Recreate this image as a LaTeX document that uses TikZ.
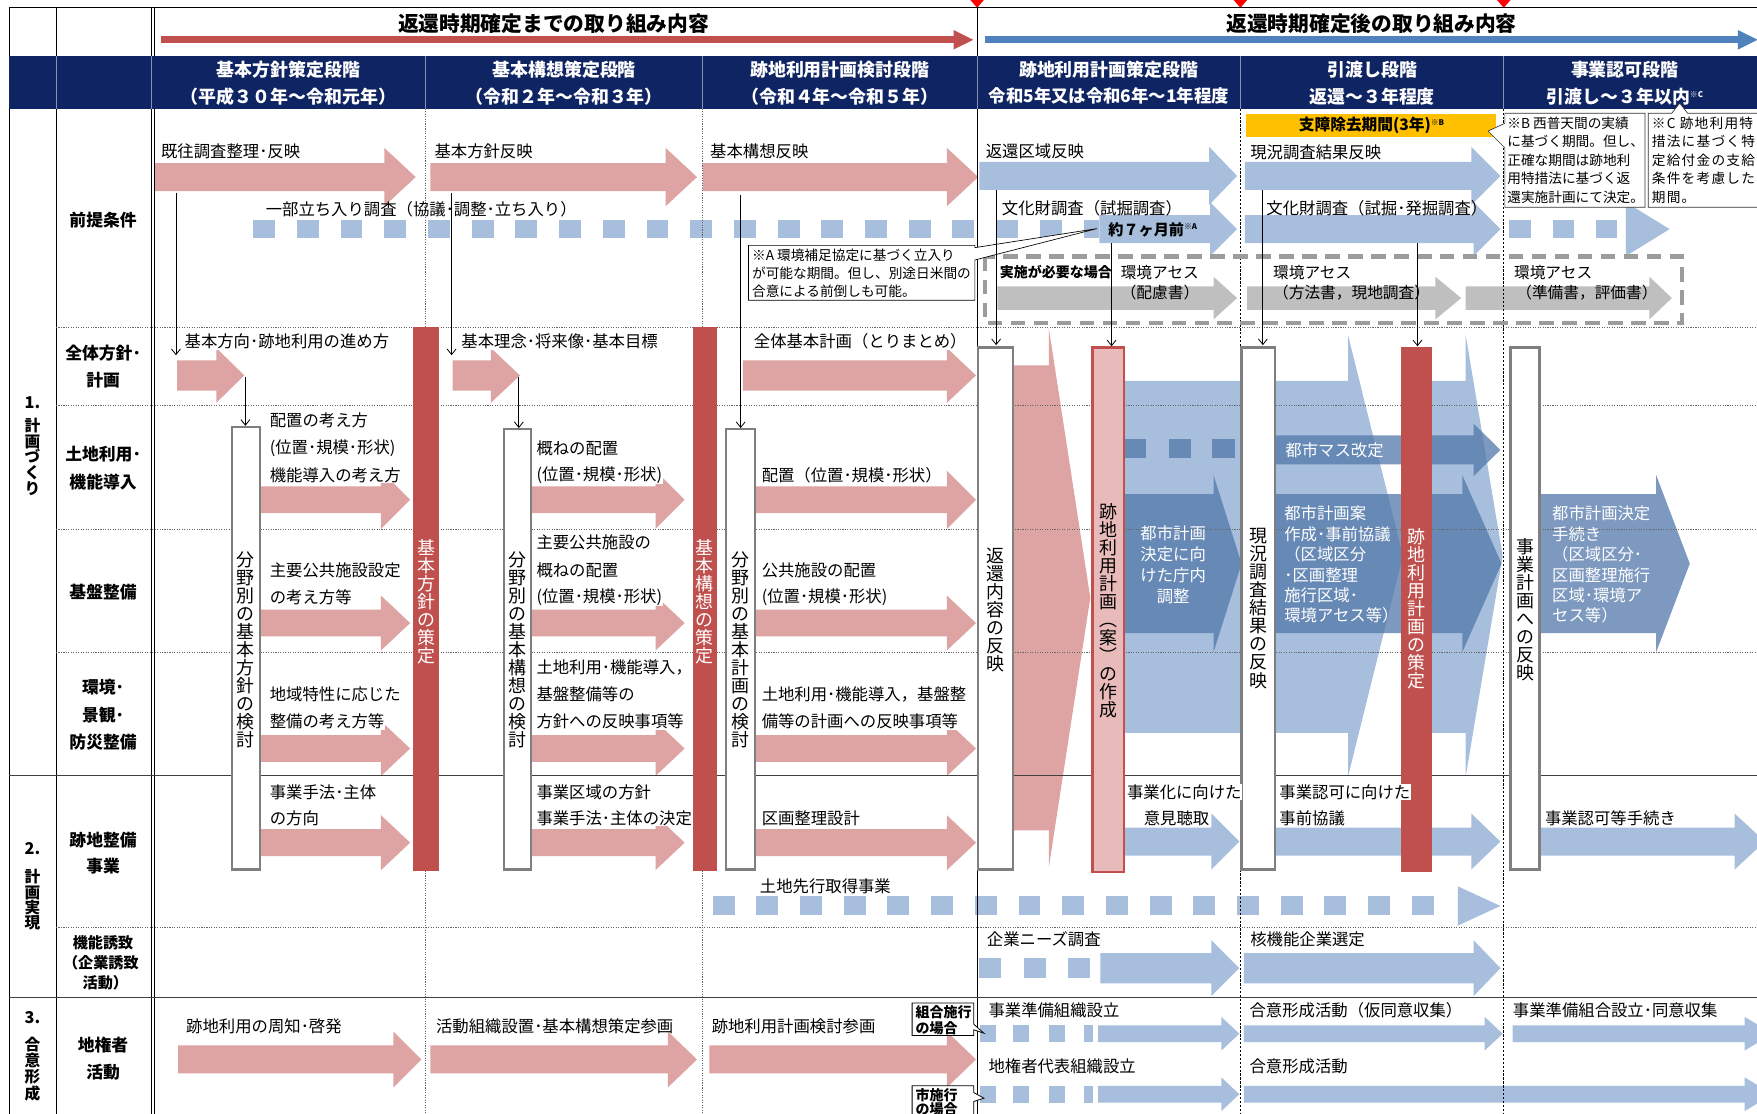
\documentclass[tikz,border=0pt]{standalone}
\usepackage{fontspec}
\setmainfont{Noto Sans CJK JP}
\usetikzlibrary{arrows.meta}
\definecolor{navy}{HTML}{0F2463}
\definecolor{dred}{HTML}{C0504D}
\definecolor{pinkA}{HTML}{DEA3A3}
\definecolor{pinkB}{HTML}{E8BABA}
\definecolor{lblue}{HTML}{A7BEDD}
\definecolor{dblue}{RGB}{82,120,170}
\definecolor{hblue}{HTML}{4F81BD}
\definecolor{boxgray}{HTML}{7F7F7F}
\definecolor{garrow}{HTML}{BFBFBF}
\definecolor{dashgray}{HTML}{9C9C9C}
\definecolor{yel}{HTML}{FFC000}
\newcommand\fsz[2]{\fontsize{#1}{#2}\selectfont}
\newcommand\ha[7]{\fill[#1] (#2,#5-#6) -- (#3,#5-#6) -- (#3,#5-#7) -- (#4,#5) -- (#3,#5+#7) -- (#3,#5+#6) -- (#2,#5+#6) -- cycle;}
\begin{document}
\begin{tikzpicture}[x=1pt,y=-1pt,
 pk/.style={fill=pinkA},
 lb/.style={fill=lblue},
 db/.style={fill=dblue,fill opacity=0.75},
 ga/.style={fill=garrow},
 gdot/.style={draw=black!60,line width=0.6pt,dash pattern=on 1pt off 1.2pt},
 gdsh/.style={draw=black,line width=0.6pt,dash pattern=on 2pt off 1.5pt},
 gsol/.style={draw=black!75,line width=0.9pt},
 vbox/.style={draw=boxgray,line width=2.2pt,fill=white},
 thinarr/.style={draw=black,line width=0.7pt,-{Straight Barb[length=5pt,width=8pt]}},
 lab/.style={anchor=west,inner sep=0.6pt,fill=white,font={\fsz{14.6}{17}}},
 labn/.style={anchor=west,inner sep=0pt,font={\fsz{14.6}{17}}},
 wlab/.style={anchor=west,inner sep=0pt,text=white,font={\fsz{14.6}{17}}},
 hdr/.style={text=white,inner sep=0pt,font={\bfseries\fsz{16}{18}}},
 rowl/.style={inner sep=0pt,font={\bfseries\fsz{15}{17}}},
 vt/.style={align=center,inner sep=0pt,font={\fsz{16}{16.1}}},
 nt/.style={anchor=west,inner sep=0pt,font={\fsz{12.2}{14}}},
 ntc/.style={anchor=west,inner sep=0pt,font={\fsz{12.2}{14}\addfontfeatures{LetterSpace=9}}},
]
\useasboundingbox (0,0) rectangle (1568,994);
\clip (0,0) rectangle (1568,994);
\fill[white] (0,0) rectangle (1568,994);
\fill[navy] (8,50) rectangle (1568,97);

% top markers
\foreach \mx in {872,1107,1342} \fill[red] (\mx-6,0) -- (\mx+6,0) -- (\mx,7) -- cycle;

% header arrows
\draw[dred,line width=6pt,-{Triangle[length=18pt,width=16pt]}] (144,35.5) -- (869,35.5);
\draw[hblue,line width=6pt,-{Triangle[length=18pt,width=16pt]}] (879,35.5) -- (1569,35.5);

% ===== premise row arrows
\ha{pk}{138}{343}{371}{158}{12.5}{26}
\ha{pk}{384}{594}{622}{158}{12.5}{26}
\ha{pk}{627}{845}{873}{158}{12.5}{26}
\ha{lb}{874}{1079}{1104}{157}{12.5}{26}
\ha{lb}{1111}{1313}{1339}{157}{12.5}{26}
\foreach \xx in {226,265,...,928} \fill[lb] (\xx,196.5) rectangle ++(19.5,16);
\fill[lb] (967,196.5) rectangle (981,212.5);
\ha{lb}{981}{1080}{1104}{204.5}{12.5}{24}
\ha{lb}{1111}{1315}{1339}{204.5}{12.5}{24}
\foreach \xx in {1347,1385.5,1424} \fill[lb] (\xx,196.5) rectangle ++(19,16);
\fill[lb] (1451,180.5) -- (1490,204.5) -- (1451,228.5) -- cycle;
\ha{ga}{890}{1083}{1104}{266}{10.5}{19}
\ha{ga}{1113}{1281}{1304}{266}{10.5}{19}
\ha{ga}{1308}{1472}{1492}{266}{10.5}{19}

% ===== overall policy row
\ha{pk}{158}{193}{218}{335}{13.5}{24.5}
\ha{pk}{404}{438}{464}{335}{13.5}{24.5}
\ha{pk}{663}{845}{871}{335}{13.5}{24.5}

% ===== planning rows
\foreach \yy/\hh in {446/26,556/24.5,668/24.5,752/24.5}{
  \ha{pk}{233}{340}{366}{\yy}{12}{\hh}
  \ha{pk}{474}{585}{611}{\yy}{12}{\hh}
  \ha{pk}{674}{845}{871}{\yy}{12}{\hh}
}
% landowner row pink
\ha{pk}{159}{351}{376}{945.5}{12.5}{25}
\ha{pk}{384}{596}{622}{945.5}{12.5}{25}
\ha{pk}{633}{845}{871}{945.5}{12.5}{25}

% big pink arrow
\fill[pk] (890,326) -- (936,326) -- (936,293) -- (973,533.5) -- (936,774) -- (936,741) -- (890,741) -- cycle;
% big light blue arrows
\fill[lb] (990,340) -- (1203,340) -- (1203,299) -- (1252,496) -- (1203,693) -- (1203,654) -- (990,654) -- cycle;
\fill[lb] (1260,340) -- (1308,340) -- (1308,299) -- (1341,496) -- (1308,693) -- (1308,654) -- (1260,654) -- cycle;
% darker blue arrows
\ha{db}{1000}{1083}{1108}{503}{62}{79}
\foreach \xx in {1003,1043,1082} \fill[db] (\xx,392) rectangle ++(20,17);
\ha{db}{1125}{1315}{1339}{401.5}{13}{23.5}
\ha{db}{1125}{1305}{1340}{503}{62}{79}
\ha{db}{1370}{1478}{1508}{503}{62}{79}

% lower blue arrows
\ha{lb}{1000}{1081}{1106}{751}{12.5}{25}
\ha{lb}{1130}{1313}{1339}{751}{12.5}{25}
\ha{lb}{1370}{1548}{1575}{751}{12.5}{25}
\foreach \xx in {636,675,...,1260} \fill[lb] (\xx,800) rectangle ++(19.5,17);
\fill[lb] (1301,791) -- (1339,808.5) -- (1301,826) -- cycle;
\foreach \xx in {874,914,953} \fill[lb] (\xx,855) rectangle ++(19.5,18);
\ha{lb}{982}{1081}{1106}{864}{13.5}{25}
\ha{lb}{1110}{1315}{1339}{864}{13.5}{25}
\foreach \yy in {922.5,976.5}{
 \foreach \xx in {875,904,936} \fill[lb] (\xx,\yy-7.5) rectangle ++(14,15);
 \fill[lb] (967,\yy-7.5) rectangle ++(8,15);
 \ha{lb}{980}{1090}{1106}{\yy}{7.5}{15}
}
\ha{lb}{1110}{1325}{1341}{922.5}{7.5}{15}
\ha{lb}{1350}{1557}{1582}{922.5}{7.5}{15}
\ha{lb}{1110}{1557}{1582}{976.5}{7.5}{15}

% ===== grid
\draw[black,line width=0.8pt] (8,7) -- (1568,7);
\foreach \xx in {8,50,135,137.8} {\draw[black,line width=0.8pt] (\xx,7) -- (\xx,50); \draw[black,line width=0.8pt] (\xx,97) -- (\xx,994);}
\draw[black,line width=0.6pt] (872.5,7) -- (872.5,50) (872.5,97) -- (872.5,994);
\foreach \xx in {50,135,380,627,872.5,1107,1342} \draw[white!50!navy,line width=0.8pt] (\xx,50) -- (\xx,97);
\foreach \xx in {380,627} \draw[gdot] (\xx,97) -- (\xx,994);
\foreach \xx in {1107,1342} \draw[gdsh] (\xx,97) -- (\xx,994);
\foreach \yy in {292,362,472,582,828} \draw[gdot] (50,\yy) -- (1568,\yy);
\foreach \yy in {692,890} \draw[gsol] (8,\yy) -- (1568,\yy);

% ===== bars and boxes
\fill[dred] (369,292) rectangle (392,777);
\fill[dred] (618,292) rectangle (640,777);
\fill[dred] (1250,310) rectangle (1278,778);
\draw[vbox] (207,381) rectangle (232,776);
\draw[vbox] (450,383) rectangle (474,776);
\draw[vbox] (648,383) rectangle (674,776);
\draw[vbox] (873,310) rectangle (904,776);
\draw[vbox] (1108,310) rectangle (1138,776);
\draw[vbox] (1348,310) rectangle (1374,776);
\filldraw[fill=pinkB,draw=dred,line width=2.2pt] (975,310) rectangle (1003,778);

% dashed box
\draw[draw=dashgray,line width=3.8pt,dash pattern=on 13pt off 7.5pt] (879,229) rectangle (1501,288);

% notes
\filldraw[fill=white,draw=black,line width=0.6pt] (668,219) -- (870,219) -- (870,221) -- (979,204) -- (870,232) -- (870,268) -- (668,268) -- cycle;
\fill[yel] (1112,102) rectangle (1335,122);
\filldraw[fill=white,draw=black!80,line width=0.6pt] (1343,101) -- (1468,101) -- (1468,185) -- (1343,185) -- (1343,132) -- (1328,117) -- (1343,110) -- cycle;
\filldraw[fill=white,draw=black!80,line width=0.6pt] (1471,101) -- (1492,101) -- (1499,92) -- (1506,101) -- (1590,101) -- (1590,185) -- (1471,185) -- cycle;
\filldraw[fill=white,draw=black,line width=0.7pt] (814,895) -- (869,895) -- (869,914) -- (878,922) -- (869,919) -- (869,924) -- (814,924) -- cycle;
\filldraw[fill=white,draw=black,line width=0.7pt] (814,969) -- (869,969) -- (869,975) -- (878,980) -- (869,983) -- (869,1000) -- (814,1000) -- cycle;

% ===== texts: titles
\node[font={\bfseries\fsz{18.5}{20}},inner sep=0pt] (T1) at (494,21) {返還時期確定までの取り組み内容};
\node[font={\bfseries\fsz{18.5}{20}},inner sep=0pt] (T2) at (1224,21) {返還時期確定後の取り組み内容};
\node[hdr] (h1a) at (257.5,62.5) {基本方針策定段階};
\node[hdr] (h1b) at (257.5,86) {（平成３０年～令和元年）};
\node[hdr] (h2a) at (503.5,62.5) {基本構想策定段階};
\node[hdr] (h2b) at (503.5,86) {（令和２年～令和３年）};
\node[hdr] (h3a) at (749.5,62.5) {跡地利用計画検討段階};
\node[hdr] (h3b) at (749.5,86) {（令和４年～令和５年）};
\node[hdr] (h4a) at (989.5,62.5) {跡地利用計画策定段階};
\node[hdr,font={\bfseries\fsz{15.5}{17}}] (h4b) at (989.5,86) {令和5年又は令和6年～1年程度};
\node[hdr] (h5a) at (1224.5,62.5) {引渡し段階};
\node[hdr] (h5b) at (1224.5,86) {返還～３年程度};
\node[hdr] (h6a) at (1450,62.5) {事業認可段階};
\node[hdr] (h6b) at (1450,86) {引渡し～３年以内\raisebox{5pt}{\fsz{7}{7}※C}};

% section labels
\node[font={\bfseries\fsz{14.5}{15}},inner sep=0pt] (s1) at (29,359) {1.};
\node[vt,font={\bfseries\fsz{14}{14}}] (s1v) at (29,407.5) {計\\画\\づ\\く\\り};
\node[font={\bfseries\fsz{14.5}{15}},inner sep=0pt] (s2) at (29,757) {2.};
\node[vt,font={\bfseries\fsz{14}{13.5}}] (s2v) at (29,803) {計\\画\\実\\現};
\node[font={\bfseries\fsz{14.5}{15}},inner sep=0pt] (s3) at (29,908) {3.};
\node[vt,font={\bfseries\fsz{14}{14.5}}] (s3v) at (29,954) {合\\意\\形\\成};

% row labels
\node[rowl] (r1) at (92,196) {前提条件};
\node[rowl] (r2a) at (92,315) {全体方針･};
\node[rowl] (r2b) at (92,339) {計画};
\node[rowl] (r3a) at (92,405) {土地利用･};
\node[rowl] (r3b) at (92,430) {機能導入};
\node[rowl] (r4) at (92,528) {基盤整備};
\node[rowl] (r5a) at (92,613) {環境･};
\node[rowl] (r5b) at (92,638) {景観･};
\node[rowl] (r5c) at (92,662) {防災整備};
\node[rowl] (r6a) at (92,750) {跡地整備};
\node[rowl] (r6b) at (92,773) {事業};
\node[rowl,font={\bfseries\fsz{13.5}{15}}] (r7a) at (92,841) {機能誘致};
\node[rowl,font={\bfseries\fsz{13.5}{15}}] (r7b) at (90,859) {（企業誘致};
\node[rowl,font={\bfseries\fsz{13.5}{15}}] (r7c) at (94,877) {活動）};
\node[rowl] (r8a) at (92,933) {地権者};
\node[rowl] (r8b) at (92,957) {活動};

% premise labels
\node[lab] (p1) at (143,135) {既往調査整理･反映};
\node[lab] (p2) at (387,135) {基本方針反映};
\node[lab] (p3) at (633,135) {基本構想反映};
\node[lab] (p4) at (879,135) {返還区域反映};
\node[lab] (p5) at (1115,136) {現況調査結果反映};
\node[labn] (p6) at (237,187) {一部立ち入り調査（協議･調整･立ち入り）};
\node[labn] (p7) at (894,186) {文化財調査（試掘調査）};
\node[labn] (p8) at (1130,186) {文化財調査（試掘･発掘調査）};
\node[labn,font={\bfseries\fsz{13.5}{15}}] (p9) at (989,205) {約７ヶ月前\raisebox{5pt}{\fsz{7}{7}※A}};
\node[labn,font={\bfseries\fsz{12.5}{14}}] (p10) at (892,243) {実施が必要な場合};
\node[labn,font={\fsz{14}{16}}] (p11) at (1000,243) {環境アセス};
\node[labn,font={\fsz{14}{16}}] (p12) at (1000,261) {（配慮書）};
\node[labn,font={\fsz{14}{16}}] (p13) at (1136,243) {環境アセス};
\node[labn,font={\fsz{14}{16}}] (p14) at (1136,261) {（方法書，現地調査）};
\node[labn,font={\fsz{14}{16}}] (p15) at (1351,243) {環境アセス};
\node[labn,font={\fsz{14}{16}}] (p16) at (1353,261) {（準備書，評価書）};

% notes text
\node[nt] (a1) at (671,228) {※A 環境補足協定に基づく立入り};
\node[nt] (a2) at (671,244) {が可能な期間。但し、別途日米間の};
\node[nt] (a3) at (671,260) {合意による前倒しも可能。};
\node[font={\bfseries\fsz{14}{15}},inner sep=0pt] (yb) at (1224,112) {支障除去期間(3年)\raisebox{5pt}{\fsz{7}{7}※B}};
\node[nt] (b1) at (1345,110) {※B 西普天間の実績};
\node[nt] (b2) at (1345,126.5) {に基づく期間。但し、};
\node[nt] (b3) at (1345,143) {正確な期間は跡地利};
\node[nt] (b4) at (1345,159.5) {用特措法に基づく返};
\node[nt] (b5) at (1345,176) {還実施計画にて決定。};
\node[ntc] (c1) at (1474,110) {※C 跡地利用特};
\node[ntc] (c2) at (1474,126.5) {措法に基づく特};
\node[ntc] (c3) at (1474,143) {定給付金の支給};
\node[ntc] (c4) at (1474,159.5) {条件を考慮した};
\node[ntc] (c5) at (1474,176) {期間。};

% overall policy labels
\node[lab] (q1) at (164,305) {基本方向･跡地利用の進め方};
\node[lab] (q2) at (411,305) {基本理念･将来像･基本目標};
\node[lab] (q3) at (672,305) {全体基本計画（とりまとめ）};

% land use
\node[lab] (u1) at (240,375) {配置の考え方};
\node[lab] (u2) at (240,400) {(位置･規模･形状)};
\node[lab] (u3) at (240,424) {機能導入の考え方};
\node[lab] (u4) at (478,400) {概ねの配置};
\node[lab] (u5) at (478,424) {(位置･規模･形状)};
\node[lab] (u6) at (679,424) {配置（位置･規模･形状）};
% infrastructure
\node[lab] (k1) at (240,509) {主要公共施設設定};
\node[lab] (k2) at (240,533) {の考え方等};
\node[lab] (k3) at (478,484) {主要公共施設の};
\node[lab] (k4) at (478,509) {概ねの配置};
\node[lab] (k5) at (478,533) {(位置･規模･形状)};
\node[lab] (k6) at (679,509) {公共施設の配置};
\node[lab] (k7) at (679,533) {(位置･規模･形状)};
% environment
\node[lab] (e1) at (240,620) {地域特性に応じた};
\node[lab] (e2) at (240,644) {整備の考え方等};
\node[lab] (e3) at (478,596) {土地利用･機能導入，};
\node[lab] (e4) at (478,620) {基盤整備等の};
\node[lab] (e5) at (478,644) {方針への反映事項等};
\node[lab] (e6) at (679,620) {土地利用･機能導入，基盤整};
\node[lab] (e7) at (679,644) {備等の計画への反映事項等};
% redevelopment project
\node[lab] (j1) at (240,707) {事業手法･主体};
\node[lab] (j2) at (240,730) {の方向};
\node[lab] (j3) at (478,707) {事業区域の方針};
\node[lab] (j4) at (478,730) {事業手法･主体の決定};
\node[lab] (j5) at (679,730) {区画整理設計};
\node[lab] (j6) at (1005,707) {事業化に向けた};
\node[lab] (j7) at (1020,730) {意見聴取};
\node[lab] (j8) at (1141,707) {事業認可に向けた};
\node[lab] (j9) at (1141,730) {事前協議};
\node[lab] (j10) at (1378,730) {事業認可等手続き};
\node[labn] (j11) at (678,791) {土地先行取得事業};
% function attraction
\node[lab] (f1) at (880,838) {企業ニーズ調査};
\node[lab] (f2) at (1115,838) {核機能企業選定};
% landowners
\node[labn] (g1) at (166,916) {跡地利用の周知･啓発};
\node[labn] (g2) at (389,916) {活動組織設置･基本構想策定参画};
\node[labn] (g3) at (635,916) {跡地利用計画検討参画};
\node[labn] (g4) at (882,902) {事業準備組織設立};
\node[labn] (g5) at (1115,902) {合意形成活動（仮同意収集）};
\node[labn] (g6) at (1350,902) {事業準備組合設立･同意収集};
\node[labn] (g7) at (882,952) {地権者代表組織設立};
\node[labn] (g8) at (1115,952) {合意形成活動};
\node[anchor=west,inner sep=0pt,font={\bfseries\fsz{12.5}{14}}] (cb1) at (817,903) {組合施行};
\node[anchor=west,inner sep=0pt,font={\bfseries\fsz{12.5}{14}}] (cb2) at (817,918) {の場合};
\node[anchor=west,inner sep=0pt,font={\bfseries\fsz{12.5}{14}}] (cb3) at (817,977) {市施行};
\node[anchor=west,inner sep=0pt,font={\bfseries\fsz{12.5}{14}}] (cb4) at (817,990) {の場合};

% blue arrow texts
\node[wlab] (w1) at (1147,402) {都市マス改定};
\node[align=center,inner sep=0pt,text=white,font={\fsz{14.6}{18.5}}] (w2) at (1047,504) {都市計画\\決定に向\\けた庁内\\調整};
\node[align=left,anchor=west,inner sep=0pt,text=white,font={\fsz{14.6}{18.2}}] (w3) at (1146,504) {都市計画案\\作成･事前協議\\（区域区分\\･区画整理\\施行区域･\\環境アセス等）};
\node[align=left,anchor=west,inner sep=0pt,text=white,font={\fsz{14.6}{18.2}}] (w4) at (1385,504) {都市計画決定\\手続き\\（区域区分･\\区画整理施行\\区域･環境ア\\セス等）};

% vertical texts
\node[vt] (v1) at (219.5,580) {分\\野\\別\\の\\基\\本\\方\\針\\の\\検\\討};
\node[vt] (v2) at (462,580) {分\\野\\別\\の\\基\\本\\構\\想\\の\\検\\討};
\node[vt] (v3) at (661,580) {分\\野\\別\\の\\基\\本\\計\\画\\の\\検\\討};
\node[vt,text=white] (v4) at (380.5,537) {基\\本\\方\\針\\の\\策\\定};
\node[vt,text=white] (v5) at (629,537) {基\\本\\構\\想\\の\\策\\定};
\node[vt] (v6) at (888.5,544) {返\\還\\内\\容\\の\\反\\映};
\node[vt] (v7) at (989,545) {跡\\地\\利\\用\\計\\画\\︵\\案\\︶\\の\\作\\成};
\node[vt] (v8) at (1123,543) {現\\況\\調\\査\\結\\果\\の\\反\\映};
\node[vt,text=white] (v9) at (1264,543) {跡\\地\\利\\用\\計\\画\\の\\策\\定};
\node[vt] (v10) at (1361,544) {事\\業\\計\\画\\へ\\の\\反\\映};

% thin connectors
\coordinate (c1s) at (157,172); \coordinate (c1e) at (157,317);
\coordinate (c2s) at (403,172); \coordinate (c2e) at (403,317);
\coordinate (c3s) at (661,174); \coordinate (c3e) at (661,382);
\coordinate (c4s) at (219,336); \coordinate (c4e) at (219,380);
\coordinate (c5s) at (463,336); \coordinate (c5e) at (463,382);
\coordinate (c6s) at (889,170); \coordinate (c6e) at (889,308);
\coordinate (c7s) at (992,217); \coordinate (c7e) at (992,309);
\coordinate (c8s) at (1127,170); \coordinate (c8e) at (1127,308);
\coordinate (c9s) at (1265,217); \coordinate (c9e) at (1265,309);
\foreach \i in {1,...,9} \draw[thinarr] (c\i s) -- (c\i e);
\end{tikzpicture}
\end{document}
